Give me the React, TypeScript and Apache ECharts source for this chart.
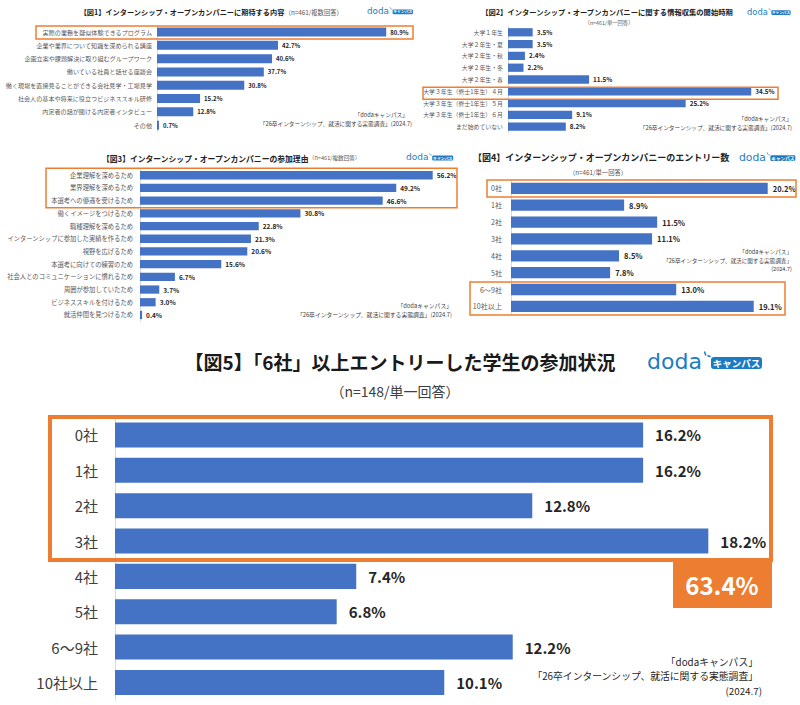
import React, { useEffect, useRef } from "react";
import * as echarts from "echarts";

const P1_CATS = [
  "実際の業務を疑似体験できるプログラム",
  "企業や業界について知識を深められる講座",
  "企画立案や課題解決に取り組むグループワーク",
  "働いている社員と話せる座談会",
  "働く現場を直接見ることができる会社見学・工場見学",
  "社会人の基本や将来に役立つビジネススキル研修",
  "内定者の話が聞ける内定者インタビュー",
  "その他",
];
const P1_VALS = [80.9, 42.7, 40.6, 37.7, 30.8, 15.2, 12.8, 0.7];

const P2_CATS = [
  "大学１年生",
  "大学２年生・夏",
  "大学２年生・秋",
  "大学２年生・冬",
  "大学２年生・春",
  "大学３年生（修士1年生）４月",
  "大学３年生（修士1年生）５月",
  "大学３年生（修士1年生）６月",
  "まだ始めていない",
];
const P2_VALS = [3.5, 3.5, 2.4, 2.2, 11.5, 34.5, 25.2, 9.1, 8.2];

const P3_CATS = [
  "企業理解を深めるため",
  "業界理解を深めるため",
  "本選考への優遇を受けるため",
  "働くイメージをつけるため",
  "職種理解を深めるため",
  "インターンシップに参加した実績を作るため",
  "視野を広げるため",
  "本選考に向けての練習のため",
  "社会人とのコミュニケーションに慣れるため",
  "周囲が参加していたため",
  "ビジネススキルを付けるため",
  "就活仲間を見つけるため",
];
const P3_VALS = [56.2, 49.2, 46.6, 30.8, 22.8, 21.3, 20.6, 15.6, 6.7, 3.7, 3.0, 0.4];

const P4_CATS = ["0社", "1社", "2社", "3社", "4社", "5社", "6～9社", "10社以上"];
const P4_VALS = [20.2, 8.9, 11.5, 11.1, 8.5, 7.8, 13.0, 19.1];

const P5_CATS = ["0社", "1社", "2社", "3社", "4社", "5社", "6～9社", "10社以上"];
const P5_VALS = [16.2, 16.2, 12.8, 18.2, 7.4, 6.8, 12.2, 10.1];
const P5_TOTAL = "63.4%";

const BAR = "#4472C4";
const ORANGE = "#ED7D31";
const BLUE = "#1B7CC3";
const FONT = "'Noto Sans CJK JP', sans-serif";
const SRC1 = "「dodaキャンパス」";
const SRC2 = "「26卒インターンシップ、就活に関する実態調査」";

function logo(x: number, y: number, s: number) {
  return {
    type: "group",
    x,
    y,
    scaleX: s,
    scaleY: s,
    z: 11,
    children: [
      {
        type: "text",
        x: 0,
        y: 12,
        z: 11,
        style: {
          text: "doda",
          fontSize: 22,
          fontFamily: "'DejaVu Sans', sans-serif",
          fill: BLUE,
          align: "left",
          textAlign: "left",
          verticalAlign: "middle",
          textVerticalAlign: "middle",
        },
      },
      { type: "line", z: 11, shape: { x1: 57.5, y1: 2.5, x2: 58.8, y2: 6.5 }, style: { stroke: BLUE, lineWidth: 1.5 } },
      { type: "line", z: 11, shape: { x1: 60.5, y1: 6.5, x2: 63.5, y2: 7.8 }, style: { stroke: BLUE, lineWidth: 1.5 } },
      { type: "rect", z: 11, shape: { x: 64, y: 8, width: 51, height: 12, r: 3 }, style: { fill: BLUE } },
      {
        type: "text",
        x: 89.5,
        y: 14.2,
        z: 12,
        style: {
          text: "キャンパス",
          fontSize: 9.5,
          fontWeight: "bold",
          fontFamily: FONT,
          fill: "#fff",
          align: "center",
          textAlign: "center",
          verticalAlign: "middle",
          textVerticalAlign: "middle",
        },
      },
    ],
  };
}

function txt(x: number, y: number, text: string, size: number, align: string, color = "#404040", weight = "normal") {
  return {
    type: "text",
    x,
    y,
    z: 20,
    style: {
      text,
      fontSize: size,
      fontFamily: FONT,
      fontWeight: weight,
      fill: color,
      align,
      textAlign: align,
      verticalAlign: "middle",
      textVerticalAlign: "middle",
    },
  };
}

function richTitle(x: number, y: number, bold: string, sub: string, bsize: number, ssize: number) {
  return {
    type: "text",
    x,
    y,
    z: 20,
    style: {
      text: "{b|" + bold + "}{s|" + sub + "}",
      align: "center",
      textAlign: "center",
      verticalAlign: "middle",
      textVerticalAlign: "middle",
      rich: {
        b: { fontSize: bsize, fontWeight: "bold", fontFamily: FONT, fill: "#222", color: "#222" },
        s: { fontSize: ssize, fontFamily: FONT, fill: "#595959", color: "#595959" },
      },
    },
  };
}

function box(x: number, y: number, w: number, h: number, lw: number) {
  return {
    type: "rect",
    z: 10,
    shape: { x, y, width: w, height: h },
    style: { fill: "none", stroke: ORANGE, lineWidth: lw },
  };
}

export default function App() {
  const ref = useRef<HTMLDivElement>(null);
  useEffect(() => {
    if (!ref.current) return;
    const chart = echarts.init(ref.current, undefined, { renderer: "svg" });
    const panels = [
      { cats: P1_CATS, vals: P1_VALS, grid: { left: 157, top: 25.4, width: 255, height: 106.4 }, max: 90, gap: "32%", cat: 6.1, catMargin: 5, val: 6, dist: 4 },
      { cats: P2_CATS, vals: P2_VALS, grid: { left: 508, top: 26.4, width: 282, height: 106.2 }, max: 40, gap: "30%", cat: 5.9, catMargin: 5, val: 6.3, dist: 4 },
      { cats: P3_CATS, vals: P3_VALS, grid: { left: 140, top: 168.9, width: 312.5, height: 152.4 }, max: 60, gap: "35%", cat: 6.3, catMargin: 7, val: 6.5, dist: 4 },
      { cats: P4_CATS, vals: P4_VALS, grid: { left: 511, top: 179.9, width: 279.6, height: 134.9 }, max: 22, gap: "33%", cat: 7.1, catMargin: 9, val: 7.5, dist: 5 },
      { cats: P5_CATS, vals: P5_VALS, grid: { left: 115, top: 417.3, width: 652, height: 282.8 }, max: 20, gap: "29%", cat: 15, catMargin: 17, val: 15, dist: 12 },
    ];
    const option: any = {
      animation: false,
      backgroundColor: "#ffffff",
      grid: panels.map((p) => ({ ...p.grid, containLabel: false })),
      xAxis: panels.map((p, i) => ({
        type: "value",
        gridIndex: i,
        min: 0,
        max: p.max,
        show: false,
        splitLine: { show: false },
      })),
      yAxis: panels.map((p, i) => ({
        type: "category",
        gridIndex: i,
        inverse: true,
        data: p.cats,
        axisTick: { show: false },
        axisLine: { show: true, lineStyle: { color: "#D9D9D9", width: 1 } },
        axisLabel: {
          fontSize: p.cat,
          color: i === 4 ? "#404040" : "#595959",
          margin: p.catMargin,
          fontFamily: FONT,
        },
      })),
      series: panels.map((p, i) => ({
        type: "bar",
        xAxisIndex: i,
        yAxisIndex: i,
        data: p.vals,
        barCategoryGap: p.gap,
        itemStyle: { color: BAR },
        label: {
          show: true,
          position: "right",
          distance: p.dist,
          fontSize: p.val,
          fontWeight: "bold",
          color: "#262626",
          fontFamily: FONT,
          formatter: (q: any) => Number(q.value).toFixed(1) + "%",
        },
      })),
      graphic: [
        // Panel 1
        richTitle(211, 12, "【図1】インターンシップ・オープンカンパニーに期待する内容", "（n=461/複数回答）", 7.2, 6.3),
        logo(367, 6.3, 0.4),
        box(36, 26, 377, 13, 1.5),
        txt(408, 114, SRC1, 5.7, "right", "#404040"),
        txt(412, 123, SRC2 + "(2024.7)", 5.7, "right", "#404040"),
        // Panel 2
        txt(607, 12, "【図2】インターンシップ・オープンカンパニーに関する情報収集の開始時期", 7.3, "center", "#222", "bold"),
        txt(609, 23, "（n=461/単一回答）", 5.3, "center", "#595959"),
        logo(747, 7.3, 0.38),
        box(423, 87.3, 355, 12, 1.5),
        txt(792, 118, SRC1, 5.7, "right", "#404040"),
        txt(792, 127, SRC2 + "(2024.7)", 5.7, "right", "#404040"),
        // Panel 3
        richTitle(231, 158, "【図3】インターンシップ・オープンカンパニーの参加理由", "（n=461/複数回答）", 7.8, 5.6),
        logo(406, 152.2, 0.41),
        box(46, 168.3, 411, 39.4, 1.5),
        txt(452, 305.7, SRC1, 5.8, "right", "#404040"),
        txt(452, 314.5, SRC2 + "(2024.7)", 5.8, "right", "#404040"),
        // Panel 4
        txt(473, 157, "【図4】インターンシップ・オープンカンパニーのエントリー数", 9, "left", "#222", "bold"),
        logo(739, 151.3, 0.49),
        txt(598, 172, "（n=461/単一回答）", 6.3, "center", "#595959"),
        box(487, 180, 309, 17, 1.5),
        box(470, 282, 315, 33, 1.5),
        txt(792, 252.3, SRC1, 5.6, "right", "#404040"),
        txt(792, 260.7, SRC2, 5.6, "right", "#404040"),
        txt(792, 269, "(2024.7)", 5.6, "right", "#404040"),
        // Panel 5
        txt(400, 361, "【図5】「6社」以上エントリーした学生の参加状況", 19, "center", "#1a1a1a", "bold"),
        txt(395, 391, "（n=148/単一回答）", 14, "center", "#404040"),
        logo(647, 349, 1),
        box(50, 417, 721, 143, 4),
        { type: "rect", z: 10, shape: { x: 673, y: 560, width: 99, height: 48 }, style: { fill: ORANGE } },
        txt(722, 584, P5_TOTAL, 24, "center", "#ffffff", "bold"),
        txt(758, 662, SRC1, 9.8, "right", "#262626"),
        txt(758, 675.5, SRC2, 9.8, "right", "#262626"),
        txt(762, 691, "(2024.7)", 9.8, "right", "#262626"),
      ],
    };
    chart.setOption(option);
    return () => chart.dispose();
  }, []);
  return (
    <div
      ref={ref}
      style={{ position: "fixed", left: 0, top: 0, width: 800, height: 705, background: "#fff" }}
    />
  );
}
